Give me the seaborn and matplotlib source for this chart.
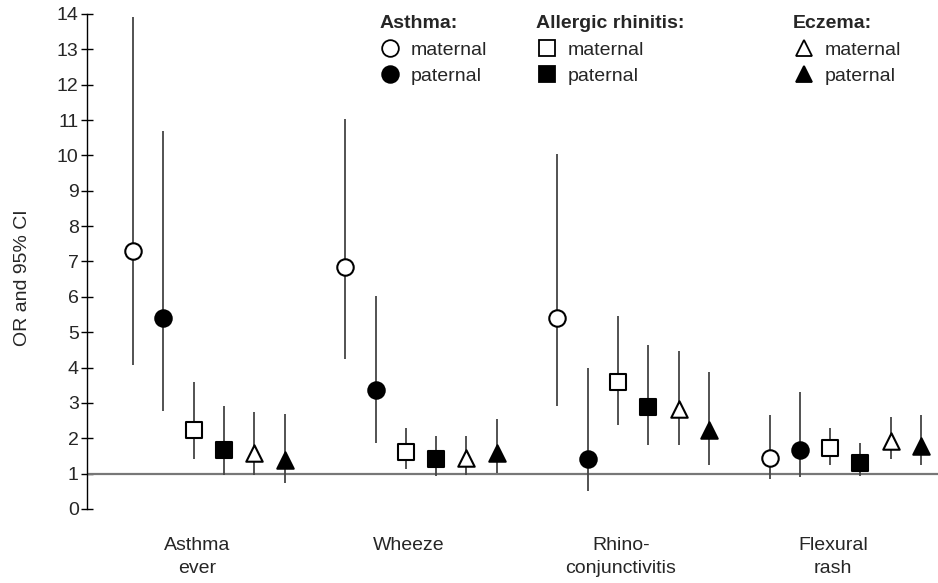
import numpy as np
import pandas as pd
import matplotlib
matplotlib.use("Agg")
import matplotlib.pyplot as plt
import seaborn as sns
from matplotlib.lines import Line2D

sns.set_theme(style="white")
plt.rcParams['font.family'] = ['Liberation Sans', 'DejaVu Sans']

outcomes = ["Asthma\never", "Wheeze", "Rhino-\nconjunctivitis", "Flexural\nrash"]
series = ["Asthma maternal", "Asthma paternal", "Allergic rhinitis maternal",
          "Allergic rhinitis paternal", "Eczema maternal", "Eczema paternal"]

# OR per outcome (rows: outcomes, cols: series)
or_asthma_ever = [7.30, 5.40, 2.23, 1.66, 1.59, 1.39]
or_wheeze      = [6.85, 3.37, 1.61, 1.41, 1.43, 1.59]
or_rhino       = [5.41, 1.41, 3.60, 2.89, 2.83, 2.22]
or_flexural    = [1.45, 1.67, 1.72, 1.31, 1.91, 1.78]

lo_asthma_ever = [4.08, 2.78, 1.41, 0.95, 0.95, 0.73]
lo_wheeze      = [4.24, 1.86, 1.14, 0.94, 0.97, 1.03]
lo_rhino       = [2.90, 0.52, 2.38, 1.81, 1.81, 1.25]
lo_flexural    = [0.84, 0.90, 1.25, 0.94, 1.41, 1.25]

hi_asthma_ever = [13.92, 10.68, 3.58, 2.90, 2.75, 2.69]
hi_wheeze      = [11.02, 6.02, 2.28, 2.07, 2.07, 2.54]
hi_rhino       = [10.05, 3.98, 5.47, 4.64, 4.48, 3.88]
hi_flexural    = [2.65, 3.31, 2.28, 1.86, 2.59, 2.65]

or_rows = [or_asthma_ever, or_wheeze, or_rhino, or_flexural]
lo_rows = [lo_asthma_ever, lo_wheeze, lo_rhino, lo_flexural]
hi_rows = [hi_asthma_ever, hi_wheeze, hi_rhino, hi_flexural]

markers = ["o", "o", "s", "s", "^", "^"]
faces = ["white", "black", "white", "black", "white", "black"]

group_step = len(series) + 1
records = []
for i, oc in enumerate(outcomes):
    for j, s in enumerate(series):
        records.append(dict(outcome=oc, series=s, x=i * group_step + j,
                            OR=or_rows[i][j], lo=lo_rows[i][j], hi=hi_rows[i][j]))
df = pd.DataFrame(records)

fig = plt.figure(figsize=(9.38, 5.83), dpi=100)
ax = fig.add_axes([0.0928, 0.127, 0.9072, 0.849])

ax.axhline(1, color="#777777", lw=1.6, zorder=1)
ax.vlines(df["x"], df["lo"], df["hi"], color="#444444", lw=1.3, zorder=2)

for j, s in enumerate(series):
    sub = df[df["series"] == s]
    sns.scatterplot(data=sub, x="x", y="OR", marker=markers[j], s=140,
                    color=faces[j], edgecolor="black", linewidth=1.5,
                    ax=ax, zorder=3, legend=False)

ax.set_xlim(-1.52, 26.56)
ax.set_ylim(0, 14)
ax.set_yticks(range(0, 15))
ax.set_xticks([i * group_step + 2.1 for i in range(len(outcomes))])
ax.set_xticklabels(outcomes, fontsize=14, linespacing=1.45)
ax.tick_params(axis="x", length=0, pad=20)
ax.tick_params(axis="y", direction="inout", length=8, width=1, color="black",
               labelsize=14, pad=2, left=True)
ax.set_xlabel("")
ax.set_ylabel("OR and 95% CI", fontsize=14)
ax.yaxis.set_label_coords(-0.066, 0.467)
for sp in ["top", "right", "bottom"]:
    ax.spines[sp].set_visible(False)
ax.spines["left"].set_color("black")
ax.spines["left"].set_linewidth(1)
ax.grid(False)

def make_legend(title, marker, x_anchor):
    handles = [Line2D([], [], ls="none", marker=marker, markersize=12,
                      markerfacecolor=fc, markeredgecolor="black", markeredgewidth=1.3)
               for fc in ["white", "black"]]
    leg = fig.legend(handles, ["maternal", "paternal"], title=title,
                     loc="upper left", bbox_to_anchor=(x_anchor, 0.998),
                     frameon=False, fontsize=14, handletextpad=0.5,
                     labelspacing=0.47, alignment="left",
                     title_fontproperties={"weight": "bold", "size": 14},
                     borderpad=0.2, handlelength=1.1)
    return leg

for title, mk, xa in [("Asthma:", "o", 0.39), ("Allergic rhinitis:", "s", 0.557),
                      ("Eczema:", "^", 0.831)]:
    make_legend(title, mk, xa)

fig.savefig("out.png", dpi=100)
